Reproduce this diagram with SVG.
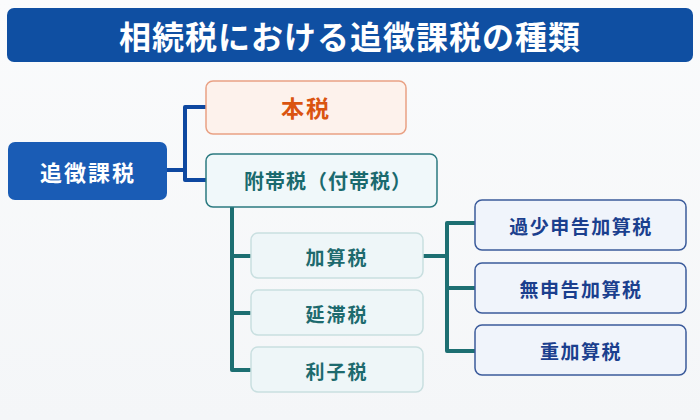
<svg xmlns="http://www.w3.org/2000/svg" width="700" height="420" viewBox="0 0 700 420">
<defs>
<style>
text{font-family:"Noto Sans CJK JP","Noto Sans",sans-serif;font-weight:700;text-anchor:middle;dominant-baseline:central}
.blue{fill:none;stroke:#0e48a0;stroke-width:4;stroke-linejoin:round;stroke-linecap:round}
.teal{fill:none;stroke:#1d6f72;stroke-width:4;stroke-linejoin:round;stroke-linecap:round}
.sub{fill:#eef6f8;stroke:#c9dfe0;stroke-width:1.5}
.leaf{fill:#f0f4fb;stroke:#3b5b9b;stroke-width:1.5}
.tsub{fill:#1d6a6e;font-size:19px;letter-spacing:2px}
.tleaf{fill:#1b3f8e;font-size:19px;letter-spacing:1.5px}
</style>
<linearGradient id="bg" x1="0" y1="0" x2="0" y2="1"><stop offset="0" stop-color="#fafbfc"/><stop offset="1" stop-color="#f4f6f8"/></linearGradient>
</defs>
<rect width="700" height="420" fill="url(#bg)"/>
<g id="title">
<rect x="7" y="8" width="686" height="54" rx="7" fill="#0f4fa2"/>
<text x="350" y="35" fill="#ffffff" font-size="32" letter-spacing="1">相続税における追徴課税の種類</text>
</g>
<g id="connectors">
<path class="blue" d="M167 170 H185 V107 H206 M185 170 V180 H206"/>
<path class="teal" d="M232 207 V370 H250 M232 256 H250 M232 313 H250"/>
<path class="teal" d="M423 256 H447 M447 223 V351 H475 M447 223 H475 M447 288 H475"/>
</g>
<g id="n-tsuicho">
<rect x="8" y="142" width="159" height="58" rx="7" fill="#1a5cb5"/>
<text x="88" y="171" fill="#ffffff" font-size="22" letter-spacing="2">追徴課税</text>
</g>
<g id="n-honzei">
<rect x="206" y="81" width="200" height="53" rx="7" fill="#fdf2ec" stroke="#e9a184" stroke-width="1.5"/>
<text x="306" y="107" fill="#da5410" font-size="23" letter-spacing="2">本税</text>
</g>
<g id="n-futai">
<rect x="206" y="154" width="231" height="53" rx="7" fill="#f0f8fa" stroke="#2b7a80" stroke-width="1.5"/>
<text x="328" y="180" fill="#1a6a6e" font-size="20" letter-spacing="1">附帯税（付帯税）</text>
</g>
<g id="n-kasan">
<rect class="sub" x="251" y="233" width="172" height="45" rx="7"/>
<text class="tsub" x="337" y="256">加算税</text>
</g>
<g id="n-entai">
<rect class="sub" x="251" y="290" width="172" height="45" rx="7"/>
<text class="tsub" x="337" y="313">延滞税</text>
</g>
<g id="n-rishi">
<rect class="sub" x="251" y="347" width="172" height="45" rx="7"/>
<text class="tsub" x="337" y="370">利子税</text>
</g>
<g id="n-kasho">
<rect class="leaf" x="475" y="200" width="211" height="50" rx="7"/>
<text class="tleaf" x="581" y="225">過少申告加算税</text>
</g>
<g id="n-mushinkoku">
<rect class="leaf" x="475" y="263" width="211" height="50" rx="7"/>
<text class="tleaf" x="581" y="288">無申告加算税</text>
</g>
<g id="n-ju">
<rect class="leaf" x="475" y="325" width="211" height="50" rx="7"/>
<text class="tleaf" x="581" y="350">重加算税</text>
</g>
</svg>
